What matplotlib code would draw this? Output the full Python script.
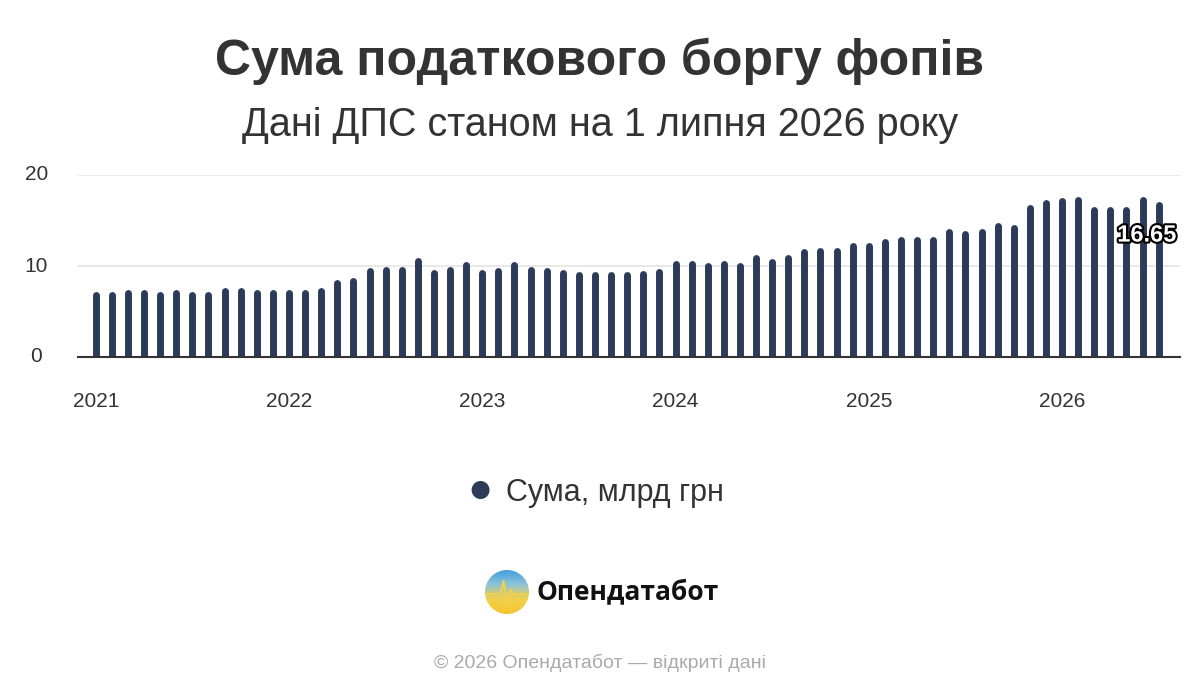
import matplotlib
matplotlib.use("Agg")
import matplotlib.pyplot as plt
import matplotlib.patheffects as pe
import numpy as np
from matplotlib.patches import Circle
from matplotlib.colors import LinearSegmentedColormap

plt.rcParams['font.family'] = ['Liberation Sans', 'DejaVu Sans']

years = ["2021", "2022", "2023", "2024", "2025", "2026"]
values = [6.8, 6.8, 7.0, 7.0, 6.8, 7.0, 6.8, 6.8, 7.2, 7.2, 7.0, 7.0,
          7.0, 7.0, 7.2, 8.1, 8.3, 9.4, 9.6, 9.6, 10.5, 9.2, 9.6, 10.1,
          9.2, 9.4, 10.1, 9.6, 9.4, 9.2, 9.0, 9.0, 9.0, 9.0, 9.1, 9.3,
          10.2, 10.2, 10.0, 10.2, 10.0, 10.9, 10.4, 10.9, 11.5, 11.7, 11.7, 12.2,
          12.2, 12.6, 12.9, 12.9, 12.9, 13.7, 13.5, 13.7, 14.4, 14.2, 16.4, 16.9,
          17.1, 17.3, 16.2, 16.2, 16.2, 17.3, 16.65]
last_label = "16.65"
bar_color = "#2d3b5a"

fig = plt.figure(figsize=(12, 7), dpi=100)
fig.patch.set_facecolor("white")
ax = fig.add_axes([0.065, 0.49, 0.918, 0.26])
x = np.arange(len(values))
ax.vlines(x, 0, values, color=bar_color, linewidth=5, capstyle='round', zorder=3)
ax.set_ylim(0, 20)
ax.set_xlim(-1.1, 67.3)
ax.set_yticks([0, 10, 20])
ax.set_xticks(np.arange(0, 72, 12))
ax.set_xticklabels(years)
ax.grid(axis='y', color='#e6e6e6', linewidth=1.3, zorder=0)
for s in ['top', 'right', 'left']:
    ax.spines[s].set_visible(False)
ax.spines['bottom'].set_color('#333333')
ax.spines['bottom'].set_linewidth(1.5)
ax.spines['bottom'].set_zorder(4)
ax.tick_params(axis='y', length=0, labelsize=15, colors='#333333', pad=30)
ax.tick_params(axis='x', length=0, labelsize=15, colors='#333333', pad=25)
for lab in ax.get_yticklabels():
    lab.set_verticalalignment('center')
    lab.set_horizontalalignment('center')
ax.text(x[-1] + 1.1, 13.4, last_label, ha='right', va='center', fontsize=17,
        fontweight='bold', color='white', zorder=5,
        path_effects=[pe.withStroke(linewidth=3, foreground='black')])

fig.text(0.5, 0.913, "Сума податкового боргу фопів", ha='center', va='center',
         fontsize=36, fontweight='bold', color='#333333')
fig.text(0.5, 0.822, "Дані ДПС станом на 1 липня 2026 року", ha='center', va='center',
         fontsize=28.5, color='#333333')

# legend
fig.text(0.4, 1 - 491 / 700, "●", ha='center', va='center', fontsize=30, color=bar_color)
fig.text(0.422, 1 - 493 / 700, "Сума, млрд грн", ha='left', va='center', fontsize=22, color='#333333')

# logo
lax = fig.add_axes([485 / 1200, 1 - 614 / 700, 44 / 1200, 44 / 700])
grad = np.linspace(0, 1, 100)[:, None]
cmap = LinearSegmentedColormap.from_list("l", ["#3b9be0", "#8cc4d8", "#f3d04a", "#f5c530"])
im = lax.imshow(np.repeat(grad, 100, axis=1), cmap=cmap, extent=[0, 1, 0, 1], origin='upper')
circ = Circle((0.5, 0.5), 0.5, transform=lax.transData)
im.set_clip_path(circ)
lax.plot([0, 0.35, 0.42, 0.5, 0.58, 0.65, 1], [0.45, 0.45, 0.75, 0.2, 0.55, 0.45, 0.45],
         color='#f3d04a', lw=1.5, clip_path=circ)
lax.set_xlim(0, 1); lax.set_ylim(0, 1); lax.set_aspect('auto'); lax.axis('off')
fig.text(536 / 1200, 1 - 592 / 700, "Опендатабот", ha='left', va='center', fontsize=19,
         fontweight='bold', color='#111111', family=['Open Sans', 'DejaVu Sans'])
fig.text(0.5, 1 - 663 / 700, "© 2026 Опендатабот — відкриті дані", ha='center', va='center',
         fontsize=14, color='#aaaaaa')

fig.savefig("out.png", dpi=100)
